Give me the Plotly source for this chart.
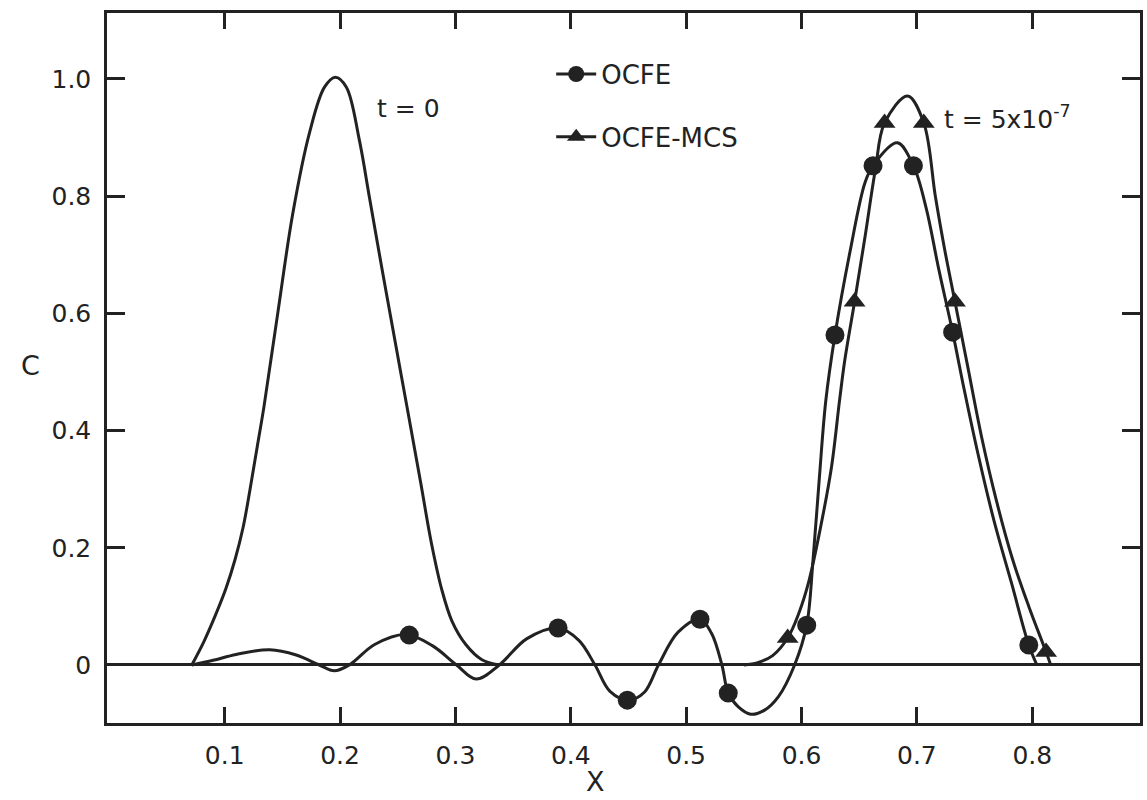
import plotly.graph_objects as go

# ---- data ----
# initial profile, t = 0
t0_x = [0.0715, 0.082, 0.092, 0.101, 0.109, 0.116, 0.122, 0.128, 0.134, 0.146,
        0.159, 0.1735, 0.1865, 0.196, 0.2055, 0.2167, 0.2253, 0.236, 0.247, 0.259,
        0.270, 0.279, 0.288, 0.297, 0.309, 0.323, 0.338]
t0_c = [0.0, 0.04, 0.085, 0.13, 0.18, 0.235, 0.30, 0.37, 0.44, 0.60,
        0.77, 0.908, 0.986, 1.003, 0.986, 0.896, 0.80, 0.68, 0.56, 0.43,
        0.31, 0.21, 0.13, 0.075, 0.035, 0.009, 0.0]

# OCFE solution at t = 5e-7 (curve)
ocfe_x = [0.0715, 0.09, 0.11, 0.139, 0.162, 0.182, 0.195, 0.208, 0.23, 0.257, 0.28, 0.301,
          0.318, 0.338, 0.362, 0.389, 0.407, 0.421, 0.434, 0.450, 0.464, 0.476, 0.493, 0.512,
          0.522, 0.531, 0.5365, 0.545, 0.556, 0.568, 0.580, 0.594, 0.6045, 0.610, 0.6155,
          0.621, 0.629, 0.642, 0.655, 0.662, 0.683, 0.697, 0.708, 0.719, 0.731, 0.741,
          0.753, 0.767, 0.782, 0.797, 0.804]
ocfe_c = [0.0, 0.008, 0.018, 0.026, 0.017, 0.0, -0.010, 0.0, 0.035, 0.052, 0.033, 0.0,
          -0.024, 0.0, 0.045, 0.063, 0.042, 0.0, -0.045, -0.060, -0.046, 0.0, 0.056, 0.078,
          0.054, 0.0, -0.048, -0.071, -0.084, -0.077, -0.054, 0.0, 0.068, 0.18, 0.32,
          0.45, 0.563, 0.705, 0.823, 0.852, 0.891, 0.852, 0.78, 0.675, 0.568, 0.47,
          0.36, 0.245, 0.14, 0.034, 0.0]

# OCFE-MCS solution at t = 5e-7 (curve)
mcs_x = [0.55, 0.562, 0.575, 0.588, 0.598, 0.606, 0.616, 0.626, 0.633, 0.6375, 0.646,
         0.655, 0.664, 0.672, 0.692, 0.706, 0.716, 0.724, 0.733, 0.744, 0.756, 0.769,
         0.783, 0.797, 0.812, 0.816]
mcs_c = [0.0, 0.004, 0.016, 0.046, 0.09, 0.14, 0.23, 0.338, 0.452, 0.52, 0.62,
         0.73, 0.845, 0.925, 0.971, 0.925, 0.80, 0.71, 0.62, 0.51, 0.39, 0.28,
         0.18, 0.10, 0.022, 0.0]

# plotted symbols
ocfe_pts_x = [0.26, 0.389, 0.449, 0.512, 0.5365, 0.6045, 0.629, 0.662, 0.697, 0.731, 0.797]
ocfe_pts_c = [0.051, 0.063, -0.060, 0.078, -0.048, 0.068, 0.563, 0.852, 0.852, 0.568, 0.034]
mcs_pts_x = [0.588, 0.646, 0.672, 0.706, 0.733, 0.812]
mcs_pts_c = [0.046, 0.62, 0.925, 0.925, 0.62, 0.022]

x_ticks = [0.1, 0.2, 0.3, 0.4, 0.5, 0.6, 0.7, 0.8]
x_tick_text = ["0.1", "0.2", "0.3", "0.4", "0.5", "0.6", "0.7", "0.8"]
y_ticks = [-0.1, 0.0, 0.2, 0.4, 0.6, 0.8, 1.0]
y_tick_text = ["-0.1", "0", "0.2", "0.4", "0.6", "0.8", "1.0"]

series_names = ["OCFE", "OCFE-MCS"]

# ---- figure ----
INK = "#222222"
FONT = "DejaVu Sans"
LW = 3
SPL = dict(shape="spline", smoothing=1.0)

fig = go.Figure()
fig.add_trace(go.Scatter(x=t0_x, y=t0_c, mode="lines",
                         line=dict(color=INK, width=LW, **SPL),
                         showlegend=False, hoverinfo="skip"))
fig.add_trace(go.Scatter(x=ocfe_x, y=ocfe_c, mode="lines",
                         line=dict(color=INK, width=LW, **SPL),
                         showlegend=False, hoverinfo="skip"))
fig.add_trace(go.Scatter(x=mcs_x, y=mcs_c, mode="lines",
                         line=dict(color=INK, width=LW, **SPL),
                         showlegend=False, hoverinfo="skip"))
fig.add_trace(go.Scatter(x=ocfe_pts_x, y=ocfe_pts_c, mode="markers",
                         marker=dict(symbol="circle", size=19, color=INK),
                         showlegend=False, name=series_names[0]))
fig.add_trace(go.Scatter(x=mcs_pts_x, y=mcs_pts_c, mode="markers",
                         marker=dict(symbol="triangle-up", size=19, color=INK),
                         showlegend=False, name=series_names[1]))
# legend entries
fig.add_trace(go.Scatter(x=[None], y=[None], mode="lines+markers", name=series_names[0],
                         legendgroup="a",
                         line=dict(color=INK, width=LW),
                         marker=dict(symbol="circle", size=19, color=INK)))
fig.add_trace(go.Scatter(x=[None], y=[None], mode="lines+markers", name=series_names[1],
                         legendgroup="b",
                         line=dict(color=INK, width=LW),
                         marker=dict(symbol="triangle-up", size=19, color=INK)))

axis_common = dict(showline=True, linewidth=2.5, linecolor=INK, mirror="ticks",
                   ticks="inside", tickwidth=2.5, tickcolor=INK, showgrid=False,
                   tickfont=dict(family=FONT, size=25, color=INK))

fig.update_xaxes(range=[-0.002, 0.8934], tickvals=x_ticks, ticktext=x_tick_text,
                 ticklen=16, zeroline=False, ticklabelstandoff=8, **axis_common)
fig.update_yaxes(range=[-0.099, 1.1126], tickvals=y_ticks, ticktext=y_tick_text,
                 ticklen=18, zeroline=True, zerolinecolor=INK, zerolinewidth=2.5,
                 ticklabelstandoff=8, **axis_common)

fig.update_layout(
    width=1147, height=800,
    margin=dict(l=107, r=4, t=13, b=77),
    plot_bgcolor="white", paper_bgcolor="white",
    font=dict(family=FONT, size=25, color=INK),
    showlegend=True,
    legend=dict(x=0.43, y=0.947, xanchor="left", yanchor="top",
                bgcolor="rgba(0,0,0,0)", font=dict(family=FONT, size=26, color=INK),
                itemwidth=40, traceorder="grouped", tracegroupgap=26),
    annotations=[
        dict(x=0.2305, y=0.95, xref="x", yref="y", text="t = 0", showarrow=False,
             xanchor="left", yanchor="middle", font=dict(family=FONT, size=25, color=INK)),
        dict(x=0.722, y=0.935, xref="x", yref="y", text="t = 5x10<sup>-7</sup>",
             showarrow=False, xanchor="left", yanchor="middle",
             font=dict(family=FONT, size=25, color=INK)),
        dict(x=-0.0743, y=0.504, xref="paper", yref="paper", text="C", showarrow=False,
             xanchor="center", yanchor="middle", font=dict(family=FONT, size=27, color=INK)),
        dict(x=0.473, y=-0.083, xref="paper", yref="paper", text="X", showarrow=False,
             xanchor="center", yanchor="middle", font=dict(family=FONT, size=27, color=INK)),
    ],
)

fig.write_html("out.html")
